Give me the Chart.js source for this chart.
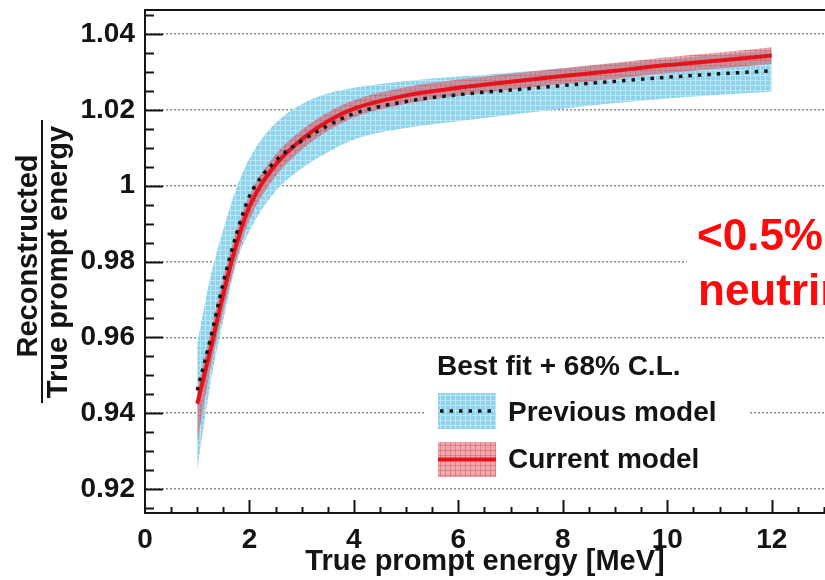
<!DOCTYPE html>
<html>
<head>
<meta charset="utf-8">
<script src="https://cdn.jsdelivr.net/npm/chart.js@4.4.1/dist/chart.umd.min.js"></script>
<style>
  html, body { margin: 0; padding: 0; background: #fff; }
  #wrap { position: relative; width: 825px; height: 580px; overflow: hidden; }
</style>
</head>
<body>
<div id="wrap"><canvas id="chart" width="825" height="580"></canvas></div>
<script>
// true prompt energy [MeV]
const energies = [1.0, 1.25, 1.5, 1.75, 2.0, 2.5, 3.0, 3.5, 4.0, 5.0, 6.0, 7.0, 8.0, 9.0, 10.0, 11.0, 12.0];

// previous model: best fit and 68% C.L. band
const prevBest = [0.946, 0.9595, 0.9745, 0.9872, 0.9972, 1.0065, 1.0118, 1.0158, 1.019, 1.0222, 1.024, 1.0252, 1.0264, 1.0275, 1.0286, 1.0295, 1.0303];
const prevLow  = [0.925, 0.9475, 0.9645, 0.9795, 0.988, 0.9985, 1.0045, 1.0088, 1.0122, 1.0152, 1.017, 1.0187, 1.0203, 1.0218, 1.023, 1.024, 1.0248];
const prevHigh = [0.9585, 0.9757, 0.9885, 0.9993, 1.0072, 1.0165, 1.0215, 1.0243, 1.0258, 1.0276, 1.0288, 1.0298, 1.031, 1.0322, 1.0333, 1.0345, 1.0357];

// current model: best fit and 68% C.L. band
const currBest = [0.9425, 0.9565, 0.9715, 0.9845, 0.9945, 1.0055, 1.0122, 1.017, 1.0203, 1.0238, 1.0258, 1.0274, 1.0289, 1.0303, 1.0318, 1.033, 1.0343];
const currLow  = [0.932, 0.9515, 0.967, 0.9805, 0.991, 1.0025, 1.0095, 1.0145, 1.018, 1.0216, 1.0237, 1.0253, 1.0268, 1.0282, 1.0297, 1.0309, 1.0321];
const currHigh = [0.946, 0.961, 0.9755, 0.988, 0.9975, 1.0082, 1.0147, 1.0193, 1.0225, 1.026, 1.028, 1.0295, 1.031, 1.0324, 1.0339, 1.0351, 1.0365];

const xTickValues = [0, 2, 4, 6, 8, 10, 12];
const yTickValues = [0.92, 0.94, 0.96, 0.98, 1.0, 1.02, 1.04];
const yTickLabels = ['0.92', '0.94', '0.96', '0.98', '1', '1.02', '1.04'];

const legendTitle = 'Best fit + 68% C.L.';
const seriesNames = ['Previous model', 'Current model'];
const yTitleTop = 'Reconstructed';
const yTitleBottom = 'True prompt energy';
const xTitle = 'True prompt energy [MeV]';
const noteLines = ['<0.5%', 'neutrino'];

const FONT = "'Liberation Sans', Arial, Helvetica, sans-serif";
const INK = '#141414';
const RED = '#e8121b';

function hatch(base, line, size) {
  const c = document.createElement('canvas');
  c.width = size;
  c.height = size;
  const g = c.getContext('2d');
  g.fillStyle = base;
  g.fillRect(0, 0, size, size);
  g.fillStyle = line;
  g.fillRect(0, 0, size, 1);
  g.fillRect(0, 0, 1, size);
  return g.createPattern(c, 'repeat');
}

const bluePattern = hatch('#8ed3ec', '#bfe6f4', 5);
const redPattern = hatch('rgba(226,96,106,0.55)', 'rgba(200,60,70,0.35)', 5);

const pts = arr => energies.map((e, i) => ({ x: e, y: arr[i] }));

const bandEdge = (label, arr, order, fill, bg) => ({
  label, data: pts(arr), order, fill,
  backgroundColor: bg || 'transparent',
  borderColor: 'transparent', borderWidth: 0,
  pointRadius: 0, cubicInterpolationMode: 'monotone'
});

const decor = {
  id: 'decor',
  afterDatasetsDraw(chart) {
    const { ctx, chartArea: a, scales: { x, y } } = chart;
    ctx.save();
    ctx.strokeStyle = INK;
    ctx.lineWidth = 2;

    // top frame
    ctx.beginPath();
    ctx.moveTo(a.left, a.top);
    ctx.lineTo(a.right, a.top);
    ctx.stroke();

    // inward ticks, y: every 0.005, major every 0.02
    for (let m = 183; m <= 209; m++) {
      const py = Math.round(y.getPixelForValue(m * 0.005)) + 0.5;
      const len = m % 4 === 0 ? 18 : 9;
      ctx.beginPath();
      ctx.moveTo(a.left, py);
      ctx.lineTo(a.left + len, py);
      ctx.stroke();
    }
    // inward ticks, x: every 0.5, major every 2
    for (let m = 1; m <= 26; m++) {
      const px = Math.round(x.getPixelForValue(m * 0.5)) + 0.5;
      const len = m % 4 === 0 ? 13 : 6;
      ctx.beginPath();
      ctx.moveTo(px, a.bottom);
      ctx.lineTo(px, a.bottom - len);
      ctx.stroke();
    }

    // legend box
    ctx.fillStyle = '#fff';
    ctx.fillRect(426, 345, 323, 137);
    ctx.fillStyle = INK;
    ctx.textBaseline = 'alphabetic';
    ctx.textAlign = 'left';
    ctx.font = `bold 28px ${FONT}`;
    ctx.fillText(legendTitle, 437, 375);

    ctx.fillStyle = bluePattern;
    ctx.fillRect(438, 393, 58, 36);
    ctx.strokeStyle = INK;
    ctx.lineWidth = 3.5;
    ctx.setLineDash([3.5, 6]);
    ctx.beginPath();
    ctx.moveTo(440, 411);
    ctx.lineTo(496, 411);
    ctx.stroke();
    ctx.setLineDash([]);

    ctx.fillStyle = redPattern;
    ctx.fillRect(438, 442, 58, 35);
    ctx.strokeStyle = RED;
    ctx.lineWidth = 4;
    ctx.beginPath();
    ctx.moveTo(438, 459.5);
    ctx.lineTo(496, 459.5);
    ctx.stroke();

    ctx.fillStyle = INK;
    ctx.font = `bold 28px ${FONT}`;
    ctx.fillText(seriesNames[0], 508, 421);
    ctx.fillText(seriesNames[1], 508, 468);

    // red note, cut by the right edge
    ctx.fillStyle = '#fff';
    ctx.fillRect(687, 200, 140, 120);
    ctx.fillStyle = '#ff0a0a';
    ctx.font = `bold 44px ${FONT}`;
    ctx.fillText(noteLines[0], 697, 250);
    ctx.fillText(noteLines[1], 698, 305);
    ctx.restore();
  },
  afterDraw(chart) {
    const { ctx } = chart;
    ctx.save();
    ctx.fillStyle = INK;
    ctx.font = `bold 29px ${FONT}`;
    ctx.textAlign = 'center';
    ctx.textBaseline = 'alphabetic';

    ctx.save();
    ctx.translate(37, 256);
    ctx.rotate(-Math.PI / 2);
    ctx.fillText(yTitleTop, 0, 0);
    ctx.restore();

    ctx.save();
    ctx.translate(67, 262);
    ctx.rotate(-Math.PI / 2);
    ctx.fillText(yTitleBottom, 0, 0);
    ctx.restore();

    ctx.strokeStyle = INK;
    ctx.lineWidth = 2;
    ctx.beginPath();
    ctx.moveTo(42, 120);
    ctx.lineTo(42, 403);
    ctx.stroke();
    ctx.restore();
  }
};

new Chart(document.getElementById('chart'), {
  type: 'line',
  data: {
    datasets: [
      bandEdge('prev-low', prevLow, 5, false),
      bandEdge('prev-high', prevHigh, 4, '-1', bluePattern),
      bandEdge('curr-low', currLow, 3, false),
      bandEdge('curr-high', currHigh, 2, '-1', redPattern),
      {
        label: seriesNames[1], data: pts(currBest), order: 1, fill: false,
        borderColor: RED, borderWidth: 4, pointRadius: 0,
        cubicInterpolationMode: 'monotone'
      },
      {
        label: seriesNames[0], data: pts(prevBest), order: 0, fill: false,
        borderColor: INK, borderWidth: 3.5, borderDash: [3.5, 6], pointRadius: 0,
        cubicInterpolationMode: 'monotone'
      }
    ]
  },
  options: {
    responsive: false,
    animation: false,
    layout: { padding: { top: 10, right: 0, bottom: 0, left: 0 } },
    plugins: { legend: { display: false }, tooltip: { enabled: false } },
    scales: {
      x: {
        type: 'linear', min: 0, max: 13.02,
        afterBuildTicks: s => { s.ticks = xTickValues.map(v => ({ value: v })); },
        afterFit: s => { s.height = 67; s.paddingLeft = 0; s.paddingRight = 0; },
        grid: { display: false, drawTicks: false, tickLength: 0 },
        border: { display: true, color: INK, width: 2 },
        ticks: {
          color: INK, padding: 10, maxRotation: 0, autoSkip: false,
          font: { family: FONT, size: 28, weight: 'bold' },
          callback: v => String(v)
        },
        title: {
          display: true, text: xTitle, color: INK,
          font: { family: FONT, size: 29, weight: 'bold' },
          padding: { top: 0, bottom: 1 }
        }
      },
      y: {
        type: 'linear', min: 0.91367, max: 1.04633,
        afterBuildTicks: s => { s.ticks = yTickValues.map(v => ({ value: v })); },
        afterFit: s => { s.width = 145; s.paddingTop = 0; s.paddingBottom = 0; },
        grid: { color: '#8c8c8c', lineWidth: 1.5, drawTicks: false, tickLength: 0 },
        border: { display: true, color: INK, width: 2, dash: [2, 2] },
        ticks: {
          color: INK, padding: 10, autoSkip: false,
          font: { family: FONT, size: 28, weight: 'bold' },
          callback: (v, i) => yTickLabels[i]
        }
      }
    }
  },
  plugins: [decor]
});
</script>
</body>
</html>
